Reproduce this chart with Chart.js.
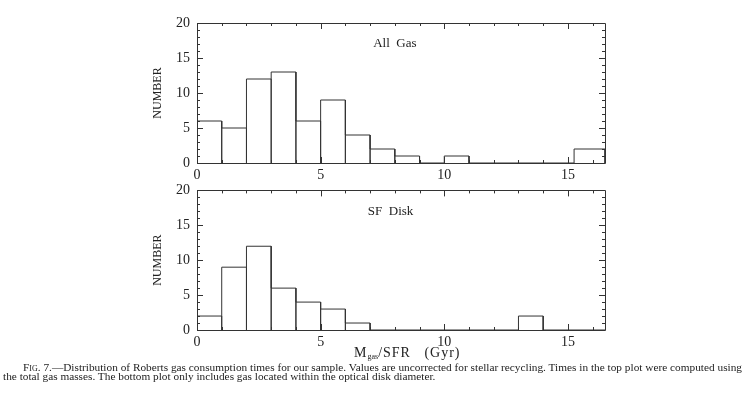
<!DOCTYPE html>
<html>
<head>
<meta charset="utf-8">
<script src="https://cdn.jsdelivr.net/npm/chart.js@4.4.1/dist/chart.umd.min.js"></script>
<style>
  body { margin: 0; background: #fff; font-family: "Liberation Serif", serif; color: #222; }
  #page { position: relative; width: 754px; height: 393px; overflow: hidden; }
  canvas { position: absolute; left: 0; }
  #topChart { top: 0; }
  #bottomChart { top: 175px; }
  #xTitle { position: absolute; top: 346px; left: 354px; font-size: 14px; line-height: 14px; letter-spacing: 1px; white-space: pre; }
  #xTitle sub { font-size: 8px; letter-spacing: 0; vertical-align: -2px; }
  .cap { position: absolute; font-size: 11.3px; line-height: 10px; white-space: nowrap; }
  #cap1 { left: 23px; top: 362px; width: 719px; text-align: justify; text-align-last: justify; }
  #cap2 { left: 3px; top: 371px; }
  .sc { font-variant: small-caps; }
</style>
</head>
<body>
<div id="page">
  <canvas id="topChart" width="754" height="185"></canvas>
  <canvas id="bottomChart" width="754" height="175"></canvas>
  <div id="xTitle">M<sub>gas</sub>/SFR   (Gyr)</div>
  <div class="cap" id="cap1"><span class="sc">Fig.</span> 7.—Distribution of Roberts gas consumption times for our sample. Values are uncorrected for stellar recycling. Times in the top plot were computed using</div>
  <div class="cap" id="cap2">the total gas masses. The bottom plot only includes gas located within the optical disk diameter.</div>
</div>
<script>
// histogram bins: edges (Gyr) and counts per bin
const allGasEdges = [0, 1, 2, 3, 4, 5, 6, 7, 8, 9, 10, 11, 15.25, 16.5];
const allGasCounts = [6, 5, 12, 13, 6, 9, 4, 2, 1, 0, 1, 0, 2];
const sfDiskEdges = [0, 1, 2, 3, 4, 5, 6, 7, 13, 14, 16.5];
const sfDiskCounts = [2, 9, 12, 6, 4, 3, 1, 0, 2, 0];

const xTicks = [0, 5, 10, 15];
const yTicks = [0, 5, 10, 15, 20];

const INK = '#333';
const TEXT = '#222';
const FONT = 'Liberation Serif';

// outline of the histogram boxes, walked bin by bin
function histOutline(edges, counts) {
    const pts = [{ x: edges[0], y: 0 }];
    counts.forEach((c, i) => {
        pts.push({ x: edges[i], y: c });
        pts.push({ x: edges[i + 1], y: c });
        pts.push({ x: edges[i + 1], y: 0 });
    });
    return pts;
}

// frame with inward ticks on all four sides, plus the panel label
const frameTicks = {
    id: 'frameTicks',
    afterDatasetsDraw(chart, args, opts) {
        const { ctx, chartArea: a, scales: { x, y } } = chart;
        ctx.save();
        ctx.strokeStyle = INK;
        ctx.lineWidth = 1;
        ctx.beginPath();
        ctx.rect(Math.round(a.left) + 0.5, Math.round(a.top) + 0.5, Math.round(a.right - a.left), Math.round(a.bottom - a.top));
        for (let v = Math.ceil(x.min); v <= x.max; v++) {
            const px = Math.round(x.getPixelForValue(v)) + 0.5;
            const len = v % 5 === 0 ? 6 : 3;
            ctx.moveTo(px, a.bottom); ctx.lineTo(px, a.bottom - len);
            ctx.moveTo(px, a.top); ctx.lineTo(px, a.top + len);
        }
        for (let v = y.min; v <= y.max; v++) {
            const py = Math.round(y.getPixelForValue(v)) + 0.5;
            const len = v % 5 === 0 ? 6 : 3;
            ctx.moveTo(a.left, py); ctx.lineTo(a.left + len, py);
            ctx.moveTo(a.right, py); ctx.lineTo(a.right - len, py);
        }
        ctx.stroke();
        ctx.fillStyle = TEXT;
        ctx.font = '13px "' + FONT + '"';
        ctx.textAlign = 'center';
        ctx.textBaseline = 'middle';
        ctx.fillText(opts.text, x.getPixelForValue(opts.x), y.getPixelForValue(opts.y));
        ctx.restore();
    }
};

function makePanel(canvasId, edges, counts, label, padTop, xHeight) {
    return new Chart(document.getElementById(canvasId), {
        type: 'scatter',
        data: {
            datasets: [{
                data: histOutline(edges, counts),
                showLine: true,
                borderColor: INK,
                borderWidth: 1,
                pointRadius: 0,
                tension: 0
            }]
        },
        options: {
            responsive: false,
            animation: false,
            layout: { padding: { left: 147, right: 149, top: padTop, bottom: 0 } },
            plugins: {
                legend: { display: false },
                tooltip: { enabled: false },
                frameTicks: label
            },
            scales: {
                x: {
                    type: 'linear', min: 0, max: 16.5,
                    afterBuildTicks: s => { s.ticks = xTicks.map(v => ({ value: v })); },
                    afterFit: s => { s.height = xHeight; },
                    grid: { display: false, drawTicks: false },
                    border: { display: false },
                    ticks: { padding: 4, maxRotation: 0, color: TEXT, font: { family: FONT, size: 14 } }
                },
                y: {
                    min: 0, max: 20,
                    afterBuildTicks: s => { s.ticks = yTicks.map(v => ({ value: v })); },
                    afterFit: s => { s.width = 50; },
                    grid: { display: false, drawTicks: false },
                    border: { display: false },
                    ticks: { padding: 7, color: TEXT, font: { family: FONT, size: 14 } },
                    title: { display: true, text: 'NUMBER', color: TEXT, font: { family: FONT, size: 12 } }
                }
            }
        },
        plugins: [frameTicks]
    });
}

makePanel('topChart', allGasEdges, allGasCounts, { text: 'All  Gas', x: 8.0, y: 17 }, 23, 22);
makePanel('bottomChart', sfDiskEdges, sfDiskCounts, { text: 'SF  Disk', x: 7.83, y: 17 }, 15, 20);
</script>
</body>
</html>
